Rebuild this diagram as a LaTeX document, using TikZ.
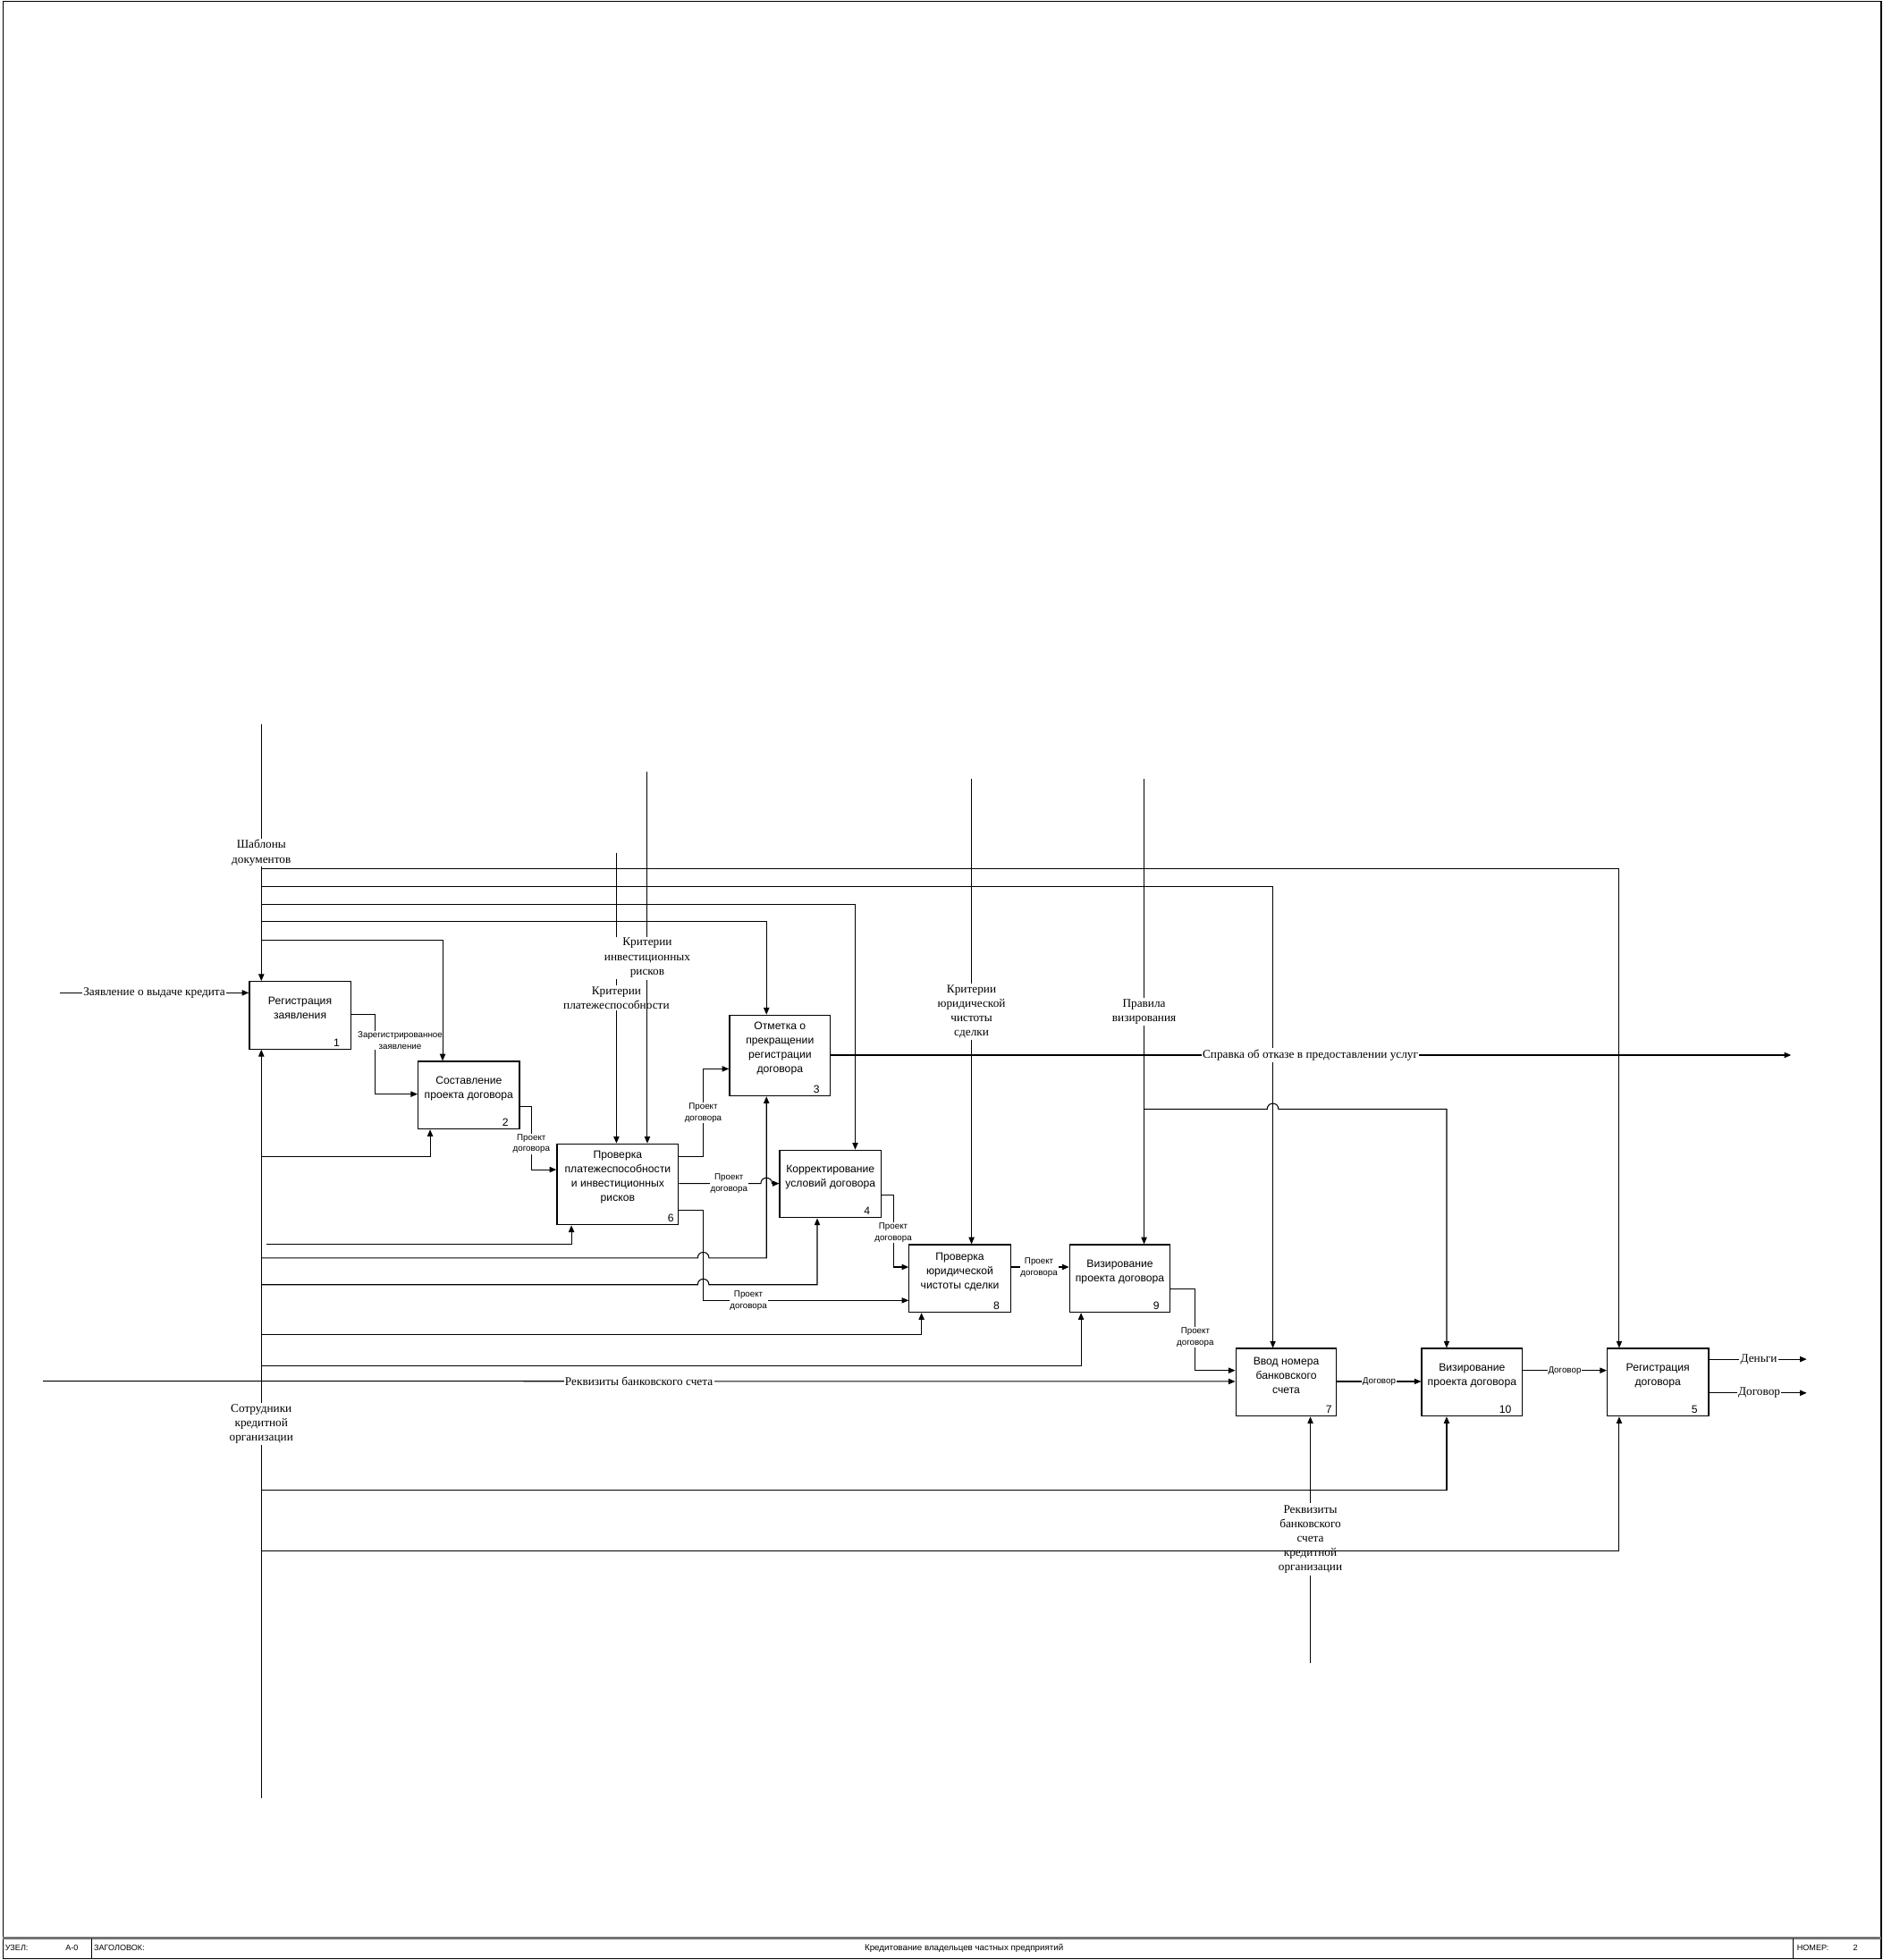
\documentclass[tikz,border=0pt]{standalone}
\usepackage{fontspec}
\setmainfont{Liberation Serif}
\setsansfont{Liberation Sans}
\usetikzlibrary{arrows.meta}
\begin{document}
\begin{tikzpicture}[x=1pt,y=-1pt,
  box/.style={draw, line width=0.9pt, fill=white, inner sep=0pt, minimum width=81pt, minimum height=54pt, anchor=north west},
  btext/.style={font=\sffamily\fontsize{8.7}{11.5}\selectfont, align=center, inner sep=0pt},
  num/.style={font=\sffamily\fontsize{8.7}{10}\selectfont, anchor=east, inner sep=0pt},
  lbl/.style={font=\fontsize{9.5}{11.6}\selectfont, align=center, fill=white, inner sep=1pt},
  nlbl/.style={font=\fontsize{9.5}{11.4}\selectfont, align=center, inner sep=1pt},
  slbl/.style={font=\sffamily\fontsize{7}{9}\selectfont, align=center, fill=white, inner sep=0.6pt},
  tbar/.style={font=\sffamily\fontsize{6.5}{7}\selectfont, inner sep=0pt},
  ln/.style={line width=0.75pt},
  arr/.style={ln, -{Triangle[length=5.5pt,width=4.5pt]}}
]
\useasboundingbox (0,0) rectangle (1506,1567.5);
\fill[white] (0,0) rectangle (1506,1567.5);

% frame and title bar
\draw[line width=0.9pt] (2.5,1) rectangle (1504.5,1566.5);
\draw[line width=1.6pt, black!55] (2.5,1550) -- (1504.5,1550);
\draw[line width=0.8pt] (73,1550) -- (73,1566.5);
\draw[line width=0.8pt] (1434,1550) -- (1434,1566.5);
\node[tbar, anchor=west] (t1) at (4,1558) {УЗЕЛ:};
\node[tbar] (t2) at (57.5,1558) {А-0};
\node[tbar, anchor=west] (t3) at (75,1558) {ЗАГОЛОВОК:};
\node[tbar, font=\sffamily\fontsize{7}{8}\selectfont] (t4) at (771,1558) {Кредитование владельцев частных предприятий};
\node[tbar, anchor=west] (t5) at (1437,1558) {НОМЕР:};
\node[tbar] (t6) at (1484,1558) {2};

% boxes
\node[box] (b1) at (199,784.5) {};
\node[box] (b2) at (334,848.4) {};
\node[box, minimum height=64.6pt, minimum width=80.7pt] (b3) at (583,811.4) {};
\node[box, minimum height=64.6pt, minimum width=97.2pt] (b6) at (445,914.4) {};
\node[box] (b4) at (623.2,919.4) {};
\node[box] (b8) at (726.7,995) {};
\node[box, minimum width=80.5pt] (b9) at (855,995) {};
\node[box, minimum width=80.5pt] (b7) at (988,1078) {};
\node[box, minimum width=80.5pt] (b10) at (1136.6,1078) {};
\node[box] (b5) at (1285,1078) {};

\node[btext] at ([yshift=5.5pt]b1.center) {Регистрация\\заявления};
\node[btext] at ([yshift=5.5pt]b2.center) {Составление\\проекта договора};
\node[btext] at ([yshift=5.5pt]b3.center) {Отметка о\\прекращении\\регистрации\\договора};
\node[btext] at ([yshift=5.5pt]b6.center) {Проверка\\платежеспособности\\и инвестиционных\\рисков};
\node[btext] at ([yshift=5.5pt]b4.center) {Корректирование\\условий договора};
\node[btext] at ([yshift=5.5pt]b8.center) {Проверка\\юридической\\чистоты сделки};
\node[btext] at ([yshift=5.5pt]b9.center) {Визирование\\проекта договора};
\node[btext] at ([yshift=5.5pt]b7.center) {Ввод номера\\банковского\\счета};
\node[btext] at ([yshift=5.5pt]b10.center) {Визирование\\проекта договора};
\node[btext] at ([yshift=5.5pt]b5.center) {Регистрация\\договора};

\node[num] at ([xshift=-9pt,yshift=5.5pt]b1.south east) {1};
\node[num] at ([xshift=-9pt,yshift=5.5pt]b2.south east) {2};
\node[num] at ([xshift=-9pt,yshift=5.5pt]b3.south east) {3};
\node[num] at ([xshift=-4pt,yshift=5.5pt]b6.south east) {6};
\node[num] at ([xshift=-9pt,yshift=5.5pt]b4.south east) {4};
\node[num] at ([xshift=-9pt,yshift=5.5pt]b8.south east) {8};
\node[num] at ([xshift=-9pt,yshift=5.5pt]b9.south east) {9};
\node[num] at ([xshift=-4pt,yshift=5.5pt]b7.south east) {7};
\node[num] at ([xshift=-9pt,yshift=5.5pt]b10.south east) {10};
\node[num] at ([xshift=-9pt,yshift=5.5pt]b5.south east) {5};

% controls: Шаблоны документов
\draw[arr] (209,579) -- (209,0 |- b1.north);
\draw[arr] (209,695) -| (1295,0 |- b5.north);
\draw[arr] (209,709) -| (1018,0 |- b7.north);
\draw[arr] (209,723) -| (684,0 |- b4.north);
\draw[arr] (209,737) -| (613,0 |- b3.north);
% criteria
\coordinate (cinv) at (517.7,617);
\draw[ln] (cinv) -- (517.7,760);
\draw[arr] (493,682) -- (493,0 |- b6.north);
\draw[arr] (777,623) -- (777,0 |- b8.north);
\draw[arr] (915,623) -- (915,0 |- b9.north);
\draw[arr] (915,887) -- (1013.5,887) .. controls (1013.5,881) and (1022.5,881) .. (1022.5,887) -| (1157,0 |- b10.north);

% mechanisms
\draw[arr] (209,1438) -- (209,0 |- b1.south);
\draw[arr] (209,925) -| (344,0 |- b2.south);
\draw[arr] (213,995) -| (457,0 |- b6.south);
\draw[arr] (209,1006) -- (558,1006) .. controls (558,1000) and (567,1000) .. (567,1006) -| (613,0 |- b3.south);
\draw[arr] (209,1027.4) -- (558,1027.4) .. controls (558,1021.4) and (567,1021.4) .. (567,1027.4) -| (653.6,0 |- b4.south);
\draw[arr] (209,1067) -| (737,0 |- b8.south);
\draw[arr] (209,1092.4) -| (864.6,0 |- b9.south);
\draw[arr] (209,1192) -| (1157,0 |- b10.south);
\draw[arr] (209,1240) -| (1295,0 |- b5.south);
\coordinate (m2a) at (1048,1330);
\coordinate (m2b) at (1048,1260);
\coordinate (m2c) at (1048,1202);
\draw[ln] (m2a) -- (m2b);
\draw[arr] (m2c) -- (1048,0 |- b7.south);

% inputs
\draw[arr] (48,794) -- (b1.west |- 0,794);
\draw[arr] (34.5,1104.5) -- (b7.west |- 0,1104.8);

% outputs
\draw[arr] (b1.east |- 0,811.6) -| (300,875) -- (b2.west |- 0,875);
\draw[arr] (b2.east |- 0,884.6) -| (425,935.4) -- (b6.west |- 0,935.4);
\draw[arr] (b6.east |- 0,925) -| (562.4,854.8) -- (b3.west |- 0,854.8);
\draw[arr] (b6.east |- 0,946.5) -- (608.5,946.5) .. controls (608.5,940.5) and (617.5,940.5) .. (617.5,946.5) -- (b4.west |- 0,946.5);
\draw[arr] (b6.east |- 0,968) -| (562.4,1040) -- (b8.west |- 0,1040);
\draw[arr] (b4.east |- 0,955.4) -| (714.4,1013.3) -- (b8.west |- 0,1013.3);
\draw[arr] (b8.east |- 0,1013.3) -- (b9.west |- 0,1013.3);
\draw[arr] (b9.east |- 0,1031) -| (956,1096) -- (b7.west |- 0,1096);
\draw[arr] (b7.east |- 0,1104.8) -- (b10.west |- 0,1104.8);
\draw[arr] (b10.east |- 0,1096) -- (b5.west |- 0,1096);
\draw[arr] (b3.east |- 0,843.8) -- (1432.5,843.8);
\draw[arr] (b5.east |- 0,1087) -- (1445,1087);
\draw[arr] (b5.east |- 0,1114) -- (1445,1114);

% labels
\node[lbl] (lshab) at (209,682) {Шаблоны\\документов};
\node[lbl] (linv) at (517.7,766) {Критерии\\инвестиционных\\рисков};
\node[lbl] (lplat) at (493,798) {Критерии\\платежеспособности};
\node[lbl] (ljur) at (777,809) {Критерии\\юридической\\чистоты\\сделки};
\node[lbl] (lpr) at (915,809) {Правила\\визирования};
\node[lbl] (lsot) at (209,1138.7) {Сотрудники\\кредитной\\организации};
\node[nlbl] (lrek2) at (1048,1231.2) {Реквизиты\\банковского\\счета\\кредитной\\организации};
\node[lbl] (lzay) at (123.4,794) {Заявление о выдаче кредита};
\node[lbl] (lrek) at (511,1104.5) {Реквизиты банковского счета};
\node[lbl] (lspr) at (1048,843.8) {Справка об отказе в предоставлении услуг};
\node[lbl] (lden) at (1406.6,1087) {Деньги};
\node[lbl] (ldog) at (1407,1114) {Договор};

\node[slbl] (s1) at (320,832) {Зарегистрированное\\заявление};
\node[slbl] (s2) at (425,914.8) {Проект\\договора};
\node[slbl] (s3) at (562.4,890) {Проект\\договора};
\node[slbl] (s4) at (583,946.7) {Проект\\договора};
\node[slbl] (s5) at (598.6,1040) {Проект\\договора};
\node[slbl] (s6) at (714.4,985.7) {Проект\\договора};
\node[slbl] (s7) at (831,1013.7) {Проект\\договора};
\node[slbl] (s8) at (956,1069.4) {Проект\\договора};
\node[slbl] (s9) at (1103,1104.8) {Договор};
\node[slbl] (s10) at (1251.4,1096) {Договор};

% lines drawn over labels
\draw[arr] (209,752) -| (354,0 |- b2.north);
\draw[arr] (517.7,784) -- (517.7,0 |- b6.north);
\end{tikzpicture}
\end{document}
